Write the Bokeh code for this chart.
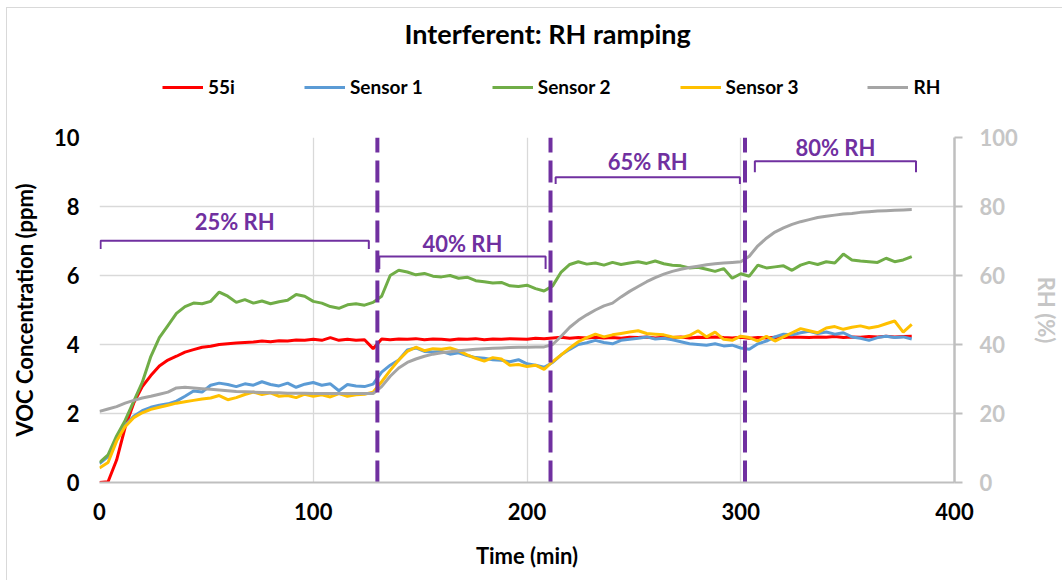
from bokeh.plotting import figure
from bokeh.layouts import column
from bokeh.models import (Range1d, LinearAxis, FixedTicker, Legend, LegendItem,
                          Label, ColumnDataSource)
from bokeh.embed import file_html
from bokeh.resources import INLINE

# ---- measurements (time in minutes) ----
time_min = list(range(0, 381, 4))

analyzer_55i = [
    0.00, 0.02, 0.65, 1.60, 2.30, 2.78, 3.10, 3.38, 3.55, 3.66,
    3.78, 3.85, 3.92, 3.95, 4.00, 4.02, 4.04, 4.06, 4.07, 4.10,
    4.08, 4.11, 4.10, 4.13, 4.12, 4.15, 4.12, 4.20, 4.12, 4.15,
    4.12, 4.14, 3.88, 4.16, 4.14, 4.16, 4.15, 4.17, 4.14, 4.16,
    4.15, 4.13, 4.16, 4.15, 4.17, 4.14, 4.16, 4.15, 4.17, 4.16,
    4.15, 4.18, 4.17, 4.19, 4.21, 4.18, 4.20, 4.19, 4.21, 4.19,
    4.20, 4.18, 4.21, 4.20, 4.22, 4.19, 4.21, 4.20, 4.22, 4.19,
    4.21, 4.20, 4.22, 4.20, 4.19, 4.21, 4.18, 4.20, 4.19, 4.21,
    4.20, 4.22, 4.21, 4.20, 4.22, 4.21, 4.23, 4.20, 4.22, 4.21,
    4.23, 4.22, 4.24, 4.22, 4.23, 4.24,
]

sensor_1 = [
    0.55, 0.75, 1.29, 1.66, 1.92, 2.08, 2.18, 2.24, 2.28, 2.36,
    2.50, 2.65, 2.62, 2.82, 2.88, 2.84, 2.78, 2.86, 2.82, 2.92,
    2.84, 2.80, 2.88, 2.76, 2.85, 2.90, 2.82, 2.86, 2.66, 2.84,
    2.80, 2.78, 2.85, 3.20, 3.40, 3.55, 3.84, 3.90, 3.80, 3.78,
    3.80, 3.72, 3.76, 3.68, 3.62, 3.60, 3.56, 3.54, 3.50, 3.56,
    3.44, 3.40, 3.34, 3.48, 3.70, 3.86, 4.00, 4.05, 4.12, 4.06,
    4.02, 4.12, 4.15, 4.18, 4.22, 4.16, 4.18, 4.14, 4.08, 4.02,
    4.00, 3.98, 4.02, 3.96, 3.98, 3.90, 3.86, 4.02, 4.10, 4.22,
    4.30, 4.28, 4.34, 4.38, 4.32, 4.36, 4.30, 4.34, 4.22, 4.18,
    4.12, 4.20, 4.24, 4.20, 4.22, 4.16,
]

sensor_2 = [
    0.58, 0.80, 1.35, 1.80, 2.35, 2.90, 3.65, 4.20, 4.55, 4.90,
    5.10, 5.20, 5.18, 5.25, 5.52, 5.40, 5.22, 5.30, 5.20, 5.26,
    5.18, 5.24, 5.28, 5.45, 5.40, 5.25, 5.20, 5.10, 5.05, 5.15,
    5.18, 5.14, 5.22, 5.40, 6.00, 6.15, 6.10, 6.02, 6.06, 5.98,
    5.96, 6.00, 5.92, 5.95, 5.85, 5.82, 5.78, 5.80, 5.70, 5.68,
    5.72, 5.62, 5.55, 5.70, 6.10, 6.32, 6.40, 6.33, 6.36, 6.30,
    6.38, 6.32, 6.36, 6.40, 6.35, 6.42, 6.34, 6.30, 6.28, 6.22,
    6.24, 6.18, 6.12, 6.20, 5.92, 6.05, 5.98, 6.30, 6.22, 6.25,
    6.28, 6.15, 6.30, 6.38, 6.32, 6.40, 6.36, 6.62, 6.45, 6.42,
    6.40, 6.38, 6.50, 6.40, 6.45, 6.55,
]

sensor_3 = [
    0.42, 0.58, 1.20, 1.62, 1.88, 2.02, 2.12, 2.18, 2.24, 2.30,
    2.34, 2.38, 2.42, 2.45, 2.52, 2.40, 2.46, 2.55, 2.62, 2.55,
    2.60, 2.50, 2.52, 2.46, 2.56, 2.50, 2.54, 2.48, 2.58, 2.50,
    2.54, 2.56, 2.62, 2.92, 3.25, 3.55, 3.80, 3.92, 3.82, 3.88,
    3.86, 3.90, 3.82, 3.70, 3.60, 3.52, 3.62, 3.58, 3.40, 3.42,
    3.36, 3.40, 3.28, 3.50, 3.70, 3.90, 4.08, 4.20, 4.30, 4.22,
    4.28, 4.32, 4.36, 4.40, 4.32, 4.30, 4.28, 4.22, 4.20, 4.26,
    4.40, 4.22, 4.36, 4.15, 4.12, 4.24, 4.20, 4.10, 4.24, 4.10,
    4.22, 4.34, 4.46, 4.40, 4.34, 4.48, 4.52, 4.44, 4.50, 4.54,
    4.48, 4.52, 4.60, 4.68, 4.36, 4.58,
]

relative_humidity = [
    20.6, 21.3, 22.0, 23.0, 23.8, 24.5, 25.0, 25.6, 26.2, 27.4,
    27.6, 27.4, 27.2, 27.0, 26.8, 26.6, 26.4, 26.3, 26.2, 26.1,
    26.0, 26.0, 25.9, 25.9, 25.9, 25.8, 25.8, 25.8, 25.8, 25.8,
    25.8, 25.8, 25.8, 27.8, 30.8, 33.2, 34.8, 35.8, 36.6, 37.2,
    37.6, 37.9, 38.2, 38.4, 38.6, 38.8, 38.9, 39.0, 39.1, 39.2,
    39.2, 39.3, 39.3, 40.0, 42.4, 45.0, 47.0, 48.6, 50.0, 51.2,
    52.0, 53.8, 55.4, 56.8, 58.2, 59.4, 60.4, 61.2, 61.8, 62.3,
    62.7, 63.1, 63.4, 63.6, 63.8, 64.0, 65.6, 68.6, 70.8, 72.6,
    73.8, 74.8, 75.6, 76.2, 76.8, 77.2, 77.5, 77.8, 78.0, 78.3,
    78.5, 78.7, 78.8, 78.9, 79.0, 79.1,
]

# humidity step changes and the stages between them
rh_step_times = [130, 211, 302]
stage_names = ["25% RH", "40% RH", "65% RH", "80% RH"]
stage_start = [0.5, 130.9, 213.4, 306.6]
stage_end = [126.0, 208.7, 299.6, 382.0]

series_names = ["55i", "Sensor 1", "Sensor 2", "Sensor 3", "RH"]

# ---- styling ----
FONT = "Lato"
PURPLE = "#7030A0"
GRID = "#d9d9d9"
AXIS_GREY = "#bfbfbf"
RH_TEXT = "#c6c6c6"
colors = ["#FF0000", "#5B9BD5", "#70AD47", "#FFC000", "#A5A5A5"]
LINE_W = 3

# bracket geometry (ppm) for the stage annotations
bracket_level = [7.01, 6.55, 8.85, 9.31]
bracket_drop = [0.24, 0.36, 0.20, 0.32]
label_level = [7.57, 6.92, 9.31, 9.72]

W = 1055
HEAD_H = 115

src = ColumnDataSource(dict(t=time_min, a=analyzer_55i, s1=sensor_1, s2=sensor_2,
                            s3=sensor_3, rh=relative_humidity))
series_cols = ["a", "s1", "s2", "s3", "rh"]

# ---- header strip: title and legend (pixel-sized coordinates) ----
head = figure(
    width=W, height=HEAD_H, x_range=Range1d(0, W), y_range=Range1d(0, HEAD_H),
    output_backend="svg", toolbar_location=None,
    x_axis_location=None, y_axis_location=None,
    min_border=0, background_fill_color="white", border_fill_color="white",
)
head.outline_line_color = None
head.xgrid.visible = False
head.ygrid.visible = False
# the series are attached here only to give the legend its swatches; this
# range keeps them out of view in the header strip
head.extra_y_ranges = {"swatch": Range1d(-1000, -999)}

head.add_layout(Label(x=553, y=90.5, text="Interferent: RH ramping",
                      text_align="center", text_baseline="middle",
                      text_color="black", text_font=FONT, text_font_size="27px",
                      text_font_style="bold"))

swatches = [head.line("t", col, source=src, line_color=c, line_width=LINE_W,
                      y_range_name="swatch")
            for col, c in zip(series_cols, colors)]
legend = Legend(
    items=[LegendItem(label=n, renderers=[r]) for n, r in zip(series_names, swatches)],
    orientation="horizontal", location=(63, 25),
    glyph_width=41, glyph_height=20, label_standoff=5, spacing=69,
    padding=0, margin=0, border_line_color=None, background_fill_alpha=0,
    label_text_font=FONT, label_text_font_size="19px", label_text_font_style="bold",
    label_text_color="black",
)
head.add_layout(legend, "center")

# ---- main chart ----
p = figure(
    width=W, height=580 - 8 - HEAD_H,
    x_range=Range1d(0, 400), y_range=Range1d(0, 10),
    output_backend="svg", toolbar_location=None,
    min_border_left=92, min_border_right=105,
    min_border_top=14, min_border_bottom=98,
    background_fill_color="white", border_fill_color="white",
)
p.outline_line_color = None
p.extra_y_ranges = {"rh": Range1d(0, 100)}

# grid
p.xgrid.ticker = FixedTicker(ticks=[0, 100, 200, 300, 400])
p.ygrid.ticker = FixedTicker(ticks=[0, 2, 4, 6, 8, 10])
for g in (p.xgrid[0], p.ygrid[0]):
    g.grid_line_color = GRID
    g.grid_line_width = 1.3

# bottom axis
xa = p.xaxis[0]
xa.ticker = FixedTicker(ticks=[0, 100, 200, 300, 400])
xa.axis_label = "Time (min)"
xa.axis_line_color = AXIS_GREY
xa.axis_line_width = 2
xa.major_tick_line_color = None
xa.minor_tick_line_color = None
xa.major_tick_out = 0
xa.major_tick_in = 0
xa.major_label_standoff = 20
xa.axis_label_standoff = 19

# left axis
ya = p.yaxis[0]
ya.ticker = FixedTicker(ticks=[0, 2, 4, 6, 8, 10])
ya.axis_label = "VOC Concentration (ppm)"
ya.axis_line_color = None
ya.major_tick_line_color = None
ya.minor_tick_line_color = None
ya.major_tick_out = 0
ya.major_tick_in = 0
ya.major_label_standoff = 20
ya.axis_label_standoff = 13

# right axis for humidity
ra = LinearAxis(y_range_name="rh", ticker=FixedTicker(ticks=[0, 20, 40, 60, 80, 100]),
                axis_label="RH (%)")
ra.axis_line_color = AXIS_GREY
ra.axis_line_width = 2.5
ra.major_tick_line_color = AXIS_GREY
ra.major_tick_line_width = 2
ra.major_tick_out = 8
ra.major_tick_in = 0
ra.minor_tick_line_color = None
ra.major_label_standoff = 17
ra.axis_label_standoff = 12
p.add_layout(ra, "right")

for ax in (xa, ya, ra):
    ax.major_label_text_font = FONT
    ax.major_label_text_font_size = "22px"
    ax.major_label_text_font_style = "bold"
    ax.axis_label_text_font = FONT
    ax.axis_label_text_font_size = "22px"
    ax.axis_label_text_font_style = "bold"
for ax in (xa, ya):
    ax.major_label_text_color = "black"
    ax.axis_label_text_color = "black"
ra.major_label_text_color = RH_TEXT
ra.axis_label_text_color = RH_TEXT

# data lines (humidity on the secondary axis, drawn last)
for col, c in zip(series_cols[:4], colors[:4]):
    p.line("t", col, source=src, line_color=c, line_width=LINE_W)
p.line("t", "rh", source=src, line_color=colors[4], line_width=LINE_W, y_range_name="rh")

# humidity step markers
p.segment(x0=rh_step_times, y0=[0] * 3, x1=rh_step_times, y1=[10] * 3,
          line_color=PURPLE, line_width=4, line_dash="22 8")

# stage brackets
bx, by = [], []
for s, e, lv, d in zip(stage_start, stage_end, bracket_level, bracket_drop):
    bx.append([s, s, e, e])
    by.append([lv - d, lv, lv, lv - d])
p.multi_line(bx, by, line_color=PURPLE, line_width=2)

stage_mid = [(s + e) / 2 for s, e in zip(stage_start, stage_end)]
for name, xm, yl in zip(stage_names, stage_mid, label_level):
    p.add_layout(Label(x=xm, y=yl, text=name, text_align="center",
                       text_baseline="middle", text_color=PURPLE,
                       text_font=FONT, text_font_size="22px",
                       text_font_style="bold"))

page = column(head, p, spacing=0,
              styles={"margin-left": "6px", "margin-top": "7px",
                      "border-left": "1px solid #d9d9d9",
                      "border-top": "1px solid #d9d9d9"})

open("out.html", "w").write(file_html(page, INLINE))
